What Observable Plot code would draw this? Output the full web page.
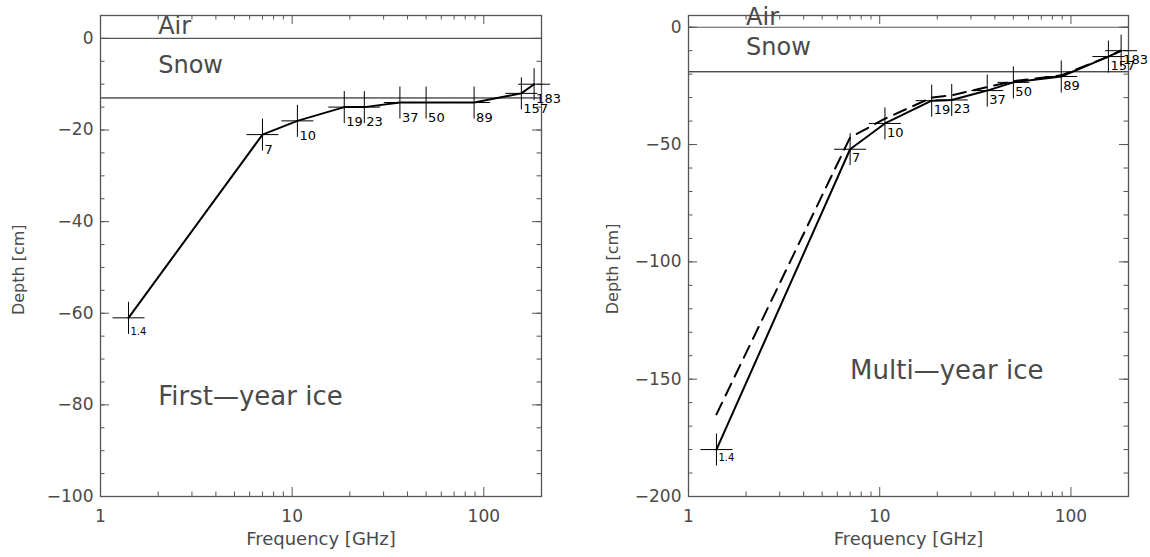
<!DOCTYPE html>
<html><head><meta charset="utf-8">
<script src="https://cdn.jsdelivr.net/npm/d3@7"></script>
<script src="https://cdn.jsdelivr.net/npm/@observablehq/plot@0.6"></script>
<style>
body{margin:0;background:#fff;}
#wrap{position:relative;width:1150px;height:557px;overflow:hidden;}
#left,#right{position:absolute;top:0;}
#left{left:0;} #right{left:575px;}
</style></head>
<body><div id="wrap"><div id="left"></div><div id="right"></div></div>
<script>
// ---- data ----
const freqs = [1.4, 7, 10.65, 18.7, 23.8, 36.5, 50, 89, 157, 183];
const freqLabels = ["1.4", "7", "10", "19", "23", "37", "50", "89", "157", "183"];
const fyiDepth = [-61, -21, -18, -15, -15, -14, -14, -14, -12, -10];
const myiDepth = [-180, -52, -41, -31.3, -31, -27, -23.5, -21, -12.5, -10];
const myiDepthDashed = [-165, -47, -39, -30, -29, -25.5, -23, -20.5, -12.5, -10];
const layerNames = ["Air", "Snow"];
const fyiLayerY = [1, -7.5];
const myiLayerY = [1, -12];
const fyiSnowBottom = -13;
const myiSnowBottom = -19;
const xMajor = [1, 10, 100];
const xMinor = [2, 3, 4, 5, 6, 7, 8, 9, 20, 30, 40, 50, 60, 70, 80, 90];
const fyiYMajor = [0, -20, -40, -60, -80, -100];
const fyiYMinor = d3.range(5, -100, -5);
const myiYMajor = [0, -50, -100, -150, -200];
const myiYMinor = d3.range(0, -200, -10);

const FONT = "DejaVu Sans";
const TXT = "#4a4a4a";
const FRAME = "#555";

const plusSymbol = {
  draw(ctx, size) {
    const r = Math.sqrt(size / Math.PI);
    ctx.moveTo(-r, 0); ctx.lineTo(r, 0);
    ctx.moveTo(0, -r); ctx.lineTo(0, r);
  }
};

function panel(cfg) {
  const [y0, y1] = cfg.yDomain;
  const solid = freqs.map((f, i) => ({f, d: cfg.depth[i], label: freqLabels[i]}));
  const dashed = cfg.dashed ? freqs.map((f, i) => ({f, d: cfg.dashed[i]})) : [];
  const layers = layerNames.map((n, i) => ({n, y: cfg.layerY[i]}));
  return Plot.plot({
    width: 575, height: 557,
    marginTop: 15, marginBottom: 61, marginLeft: cfg.marginLeft, marginRight: cfg.marginRight,
    x: {type: "log", domain: [1, 200]},
    y: {domain: cfg.yDomain},
    style: {fontFamily: FONT, background: "white", overflow: "visible"},
    marks: [
      // layer boundaries
      Plot.ruleY([0], {stroke: FRAME, strokeWidth: 1.2}),
      Plot.ruleY([cfg.snowBottom], {stroke: "black", strokeWidth: 1}),
      // ticks (inward)
      Plot.ruleX(xMajor, {x: d => d, y1: y0, y2: y0, insetBottom: 9, stroke: FRAME}),
      Plot.ruleX(xMinor, {x: d => d, y1: y0, y2: y0, insetBottom: 4.5, stroke: FRAME}),
      Plot.ruleX(xMajor, {x: d => d, y1: y1, y2: y1, insetTop: 9, stroke: FRAME}),
      Plot.ruleX(xMinor, {x: d => d, y1: y1, y2: y1, insetTop: 4.5, stroke: FRAME}),
      Plot.ruleY(cfg.yMajor, {y: d => d, x1: 1, x2: 1, insetLeft: 9, stroke: FRAME}),
      Plot.ruleY(cfg.yMinor, {y: d => d, x1: 1, x2: 1, insetLeft: 4.5, stroke: FRAME}),
      Plot.ruleY(cfg.yMajor, {y: d => d, x1: 200, x2: 200, insetRight: 9, stroke: FRAME}),
      Plot.ruleY(cfg.yMinor, {y: d => d, x1: 200, x2: 200, insetRight: 4.5, stroke: FRAME}),
      Plot.frame({stroke: FRAME, strokeWidth: 1.3}),
      // tick labels
      Plot.axisX({ticks: xMajor, tickSize: 0, tickPadding: 13, tickFormat: d => String(d),
        fontSize: 17, fill: TXT, label: null}),
      Plot.axisY({ticks: cfg.yMajor, tickSize: 0, tickPadding: 7,
        fontSize: 17, fill: TXT, label: null}),
      // axis titles
      Plot.text(["Frequency [GHz]"], {frameAnchor: "bottom", lineAnchor: "top", dy: 36,
        fontSize: 18, fill: TXT}),
      Plot.text(["Depth [cm]"], {x: () => 1, y: () => cfg.yTitleY, rotate: -90, dx: cfg.yTitleDx,
        textAnchor: "middle", lineAnchor: "middle", fontSize: 16, fill: TXT}),
      // layer names
      Plot.text(layers, {x: () => 2, y: "y", text: "n", textAnchor: "start", lineAnchor: "bottom",
        fontSize: 24, fill: TXT}),
      Plot.text([cfg.iceLabel], {x: () => cfg.iceX, y: () => cfg.iceY, textAnchor: "start",
        lineAnchor: "bottom", fontSize: 26, fill: TXT}),
      // data
      Plot.line(dashed, {x: "f", y: "d", stroke: "black", strokeWidth: 2, strokeDasharray: "13,8"}),
      Plot.line(solid, {x: "f", y: "d", stroke: "black", strokeWidth: 2}),
      Plot.dot(solid, {x: "f", y: "d", r: 16, symbol: plusSymbol, stroke: "black", strokeWidth: 1, fill: "none"}),
      Plot.text(solid, {x: "f", y: "d", text: "label", textAnchor: "start", lineAnchor: "top",
        dx: 2, dy: cfg.labelDy, fontSize: d => d.label === "1.4" ? 10 : 13, fill: "black"})
    ]
  });
}

const iceX = {fyi: 2, myi: 7};
const iceY = {fyi: -80, myi: -150};

document.getElementById("left").append(panel({
  depth: fyiDepth, dashed: null, yDomain: [-100, 5], yMajor: fyiYMajor, yMinor: fyiYMinor,
  snowBottom: fyiSnowBottom, layerY: fyiLayerY, iceLabel: "First\u2014year ice", iceX: iceX.fyi, iceY: iceY.fyi,
  marginLeft: 100, marginRight: 34, labelDy: 10, yTitleDx: -82, yTitleY: -50.5
}));
document.getElementById("right").append(panel({
  depth: myiDepth, dashed: myiDepthDashed, yDomain: [-200, 5], yMajor: myiYMajor, yMinor: myiYMinor,
  snowBottom: myiSnowBottom, layerY: myiLayerY, iceLabel: "Multi\u2014year ice", iceX: iceX.myi, iceY: iceY.myi,
  marginLeft: 113, marginRight: 22, labelDy: 4, yTitleDx: -76, yTitleY: -103
}));
</script>
</body></html>
